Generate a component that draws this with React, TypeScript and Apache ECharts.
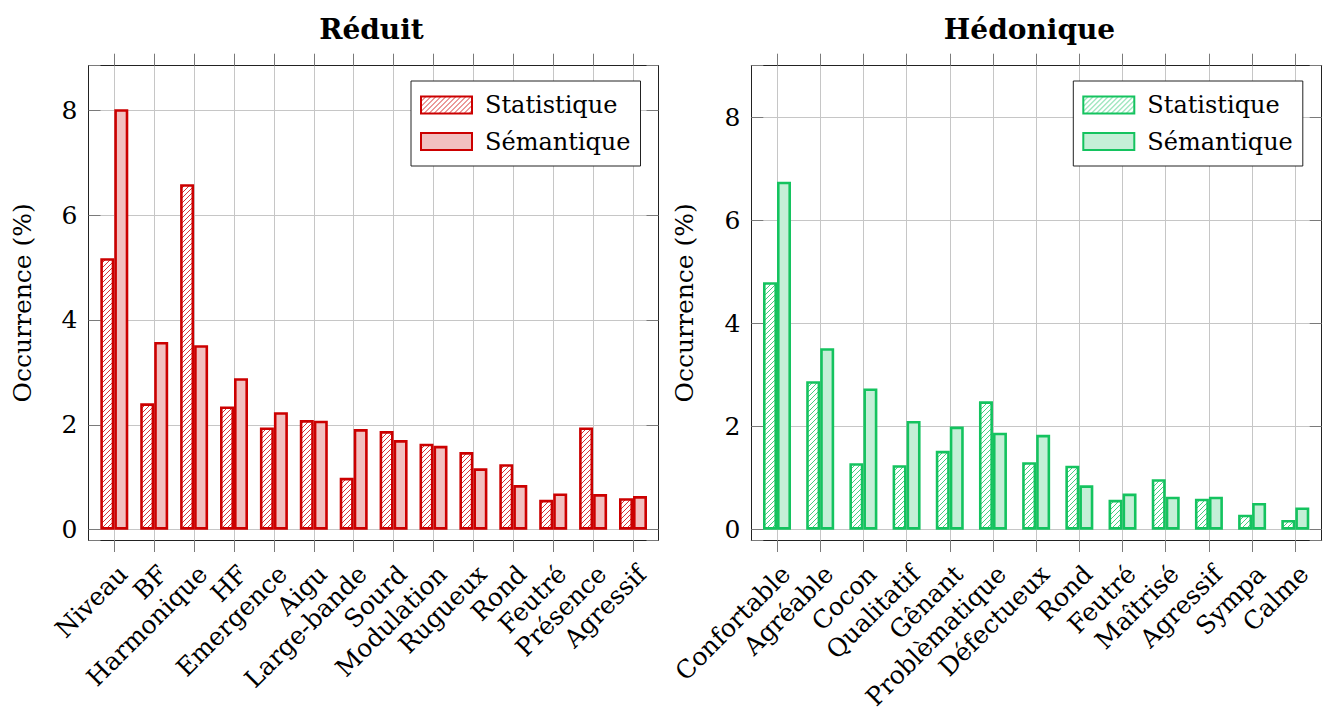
import React, { useEffect, useRef } from 'react';
import * as echarts from 'echarts';

const FONT = 'DejaVu Serif';

const reduitCategories = ['Niveau', 'BF', 'Harmonique', 'HF', 'Emergence', 'Aigu', 'Large-bande', 'Sourd', 'Modulation', 'Rugueux', 'Rond', 'Feutré', 'Présence', 'Agressif'];
const reduitStatistique = [5.18, 2.41, 6.59, 2.35, 1.95, 2.09, 0.99, 1.88, 1.64, 1.48, 1.25, 0.57, 1.95, 0.6];
const reduitSemantique = [8.02, 3.58, 3.52, 2.89, 2.24, 2.08, 1.92, 1.71, 1.6, 1.17, 0.85, 0.69, 0.68, 0.64];

const hedoniqueCategories = ['Confortable', 'Agréable', 'Cocon', 'Qualitatif', 'Gênant', 'Problèmatique', 'Défectueux', 'Rond', 'Feutré', 'Maîtrisé', 'Agressif', 'Sympa', 'Calme'];
const hedoniqueStatistique = [4.8, 2.88, 1.29, 1.25, 1.53, 2.49, 1.31, 1.24, 0.58, 0.98, 0.6, 0.29, 0.19];
const hedoniqueSemantique = [6.75, 3.52, 2.74, 2.11, 2.0, 1.88, 1.84, 0.86, 0.7, 0.64, 0.64, 0.52, 0.43];

const seriesNames = ['Statistique', 'Sémantique'];
const yTickValues = [0, 2, 4, 6, 8];

function makeHatch(color: string) {
  const T = 5;
  const c = document.createElement('canvas');
  c.width = T;
  c.height = T;
  const ctx = c.getContext('2d')!;
  ctx.fillStyle = '#ffffff';
  ctx.fillRect(0, 0, T, T);
  ctx.strokeStyle = color;
  ctx.lineWidth = 0.8;
  ctx.beginPath();
  ctx.moveTo(-1, T + 1);
  ctx.lineTo(T + 1, -1);
  ctx.moveTo(-1, 1);
  ctx.lineTo(1, -1);
  ctx.moveTo(T - 1, T + 1);
  ctx.lineTo(T + 1, T - 1);
  ctx.stroke();
  return c;
}

type PanelProps = {
  left: number;
  width: number;
  title: string;
  titleX: number;
  categories: string[];
  stat: number[];
  sem: number[];
  color: string;
  fill: string;
  frameLeft: number;
  frameRight: number;
  catLeft: number;
  catRight: number;
  yMin: number;
  yMax: number;
  legendLeft: number;
};

const TOP = 65.7;
const BOTTOM = 540;
const FS = 25;

function Panel(p: PanelProps) {
  const ref = useRef<HTMLDivElement>(null);
  useEffect(() => {
    if (!ref.current) return;
    const chart = echarts.init(ref.current, null, { renderer: 'svg' });
    const hatch = makeHatch(p.color);
    const gridLine = { color: '#c6c6c6', width: 1 };
    const tickStyle = { color: '#7a7a7a', width: 1 };
    const frameLine = { show: true, onZero: false, lineStyle: { color: '#222', width: 1 } };
    const yLabelFmt = (v: number) => (yTickValues.some((t) => Math.abs(t - v) < 1e-6) ? String(Math.round(v)) : '');
    const option: any = {
      animation: false,
      textStyle: { fontFamily: FONT },
      title: {
        text: p.title,
        left: p.titleX,
        top: 10,
        textAlign: 'center',
        textStyle: { fontFamily: FONT, fontWeight: 'bold', fontSize: 28, color: '#000' },
      },
      legend: {
        orient: 'vertical',
        left: p.legendLeft,
        top: 81,
        padding: [9, 10, 9.5, 9],
        itemGap: 6.5,
        itemWidth: 51,
        itemHeight: 17,
        icon: 'rect',
        selectedMode: false,
        backgroundColor: '#fff',
        borderColor: '#222',
        borderWidth: 1,
        borderRadius: 0,
        textStyle: { fontFamily: FONT, fontSize: 24, color: '#000', lineHeight: 30, padding: [0, 0, 0, 8] },
        data: seriesNames,
      },
      grid: [
        { left: p.frameLeft, width: p.frameRight - p.frameLeft, top: TOP, height: BOTTOM - TOP, containLabel: false, outerBoundsMode: 'none' },
        { left: p.catLeft, width: p.catRight - p.catLeft, top: TOP, height: BOTTOM - TOP, containLabel: false, outerBoundsMode: 'none' },
      ],
      xAxis: [
        { type: 'value', gridIndex: 0, position: 'bottom', min: 0, max: 1, axisLine: frameLine, axisTick: { show: false }, axisLabel: { show: false }, splitLine: { show: false } },
        { type: 'value', gridIndex: 0, position: 'top', min: 0, max: 1, axisLine: frameLine, axisTick: { show: false }, axisLabel: { show: false }, splitLine: { show: false } },
        {
          type: 'category',
          gridIndex: 1,
          position: 'bottom',
          data: p.categories,
          boundaryGap: false,
          axisLine: { show: false, onZero: false },
          axisTick: { show: true, inside: false, length: 12, lineStyle: tickStyle, interval: 0 },
          splitLine: { show: true, interval: 0, lineStyle: gridLine },
          axisLabel: { interval: 0, rotate: 45, margin: 21, verticalAlign: 'top', fontFamily: FONT, fontSize: FS, color: '#000' },
        },
        {
          type: 'category',
          gridIndex: 1,
          position: 'top',
          data: p.categories,
          boundaryGap: false,
          axisLine: { show: false, onZero: false },
          axisTick: { show: true, inside: false, length: 12, lineStyle: tickStyle, interval: 0 },
          splitLine: { show: false },
          axisLabel: { show: false },
        },
      ],
      yAxis: [
        {
          type: 'value',
          gridIndex: 0,
          position: 'left',
          min: p.yMin,
          max: p.yMax,
          axisLine: frameLine,
          axisTick: { show: true, inside: true, length: 12, lineStyle: tickStyle },
          splitLine: { show: true, lineStyle: gridLine },
          axisLabel: { formatter: yLabelFmt, margin: 11, fontFamily: FONT, fontSize: FS, color: '#000' },
          name: 'Occurrence (%)',
          nameLocation: 'middle',
          nameGap: 54,
          nameTextStyle: { fontFamily: FONT, fontSize: FS, color: '#000' },
        },
        {
          type: 'value',
          gridIndex: 0,
          position: 'right',
          min: p.yMin,
          max: p.yMax,
          axisLine: frameLine,
          axisTick: { show: true, inside: true, length: 12, lineStyle: tickStyle },
          splitLine: { show: false },
          axisLabel: { show: false },
        },
        {
          type: 'value',
          gridIndex: 1,
          min: p.yMin,
          max: p.yMax,
          show: false,
        },
      ],
      series: [
        {
          name: seriesNames[0],
          type: 'bar',
          xAxisIndex: 2,
          yAxisIndex: 2,
          data: p.stat,
          barWidth: 14,
          barGap: '0%',
          clip: false,
          z: 3,
          itemStyle: { color: { image: hatch, repeat: 'repeat' }, borderColor: p.color, borderWidth: 2.6 },
          emphasis: { disabled: true },
        },
        {
          name: seriesNames[1],
          type: 'bar',
          xAxisIndex: 2,
          yAxisIndex: 2,
          data: p.sem,
          barWidth: 14,
          barGap: '0%',
          clip: false,
          z: 3,
          itemStyle: { color: p.fill, borderColor: p.color, borderWidth: 2.6 },
          emphasis: { disabled: true },
        },
      ],
    };
    chart.setOption(option);
    return () => chart.dispose();
  }, []);
  return <div ref={ref} style={{ position: 'absolute', left: p.left, top: 0, width: p.width, height: 711 }} />;
}

export default function App() {
  return (
    <div style={{ position: 'absolute', left: 0, top: 0, width: 1329, height: 711, background: '#fff', overflow: 'hidden' }}>
      <Panel
        left={0}
        width={665}
        title="Réduit"
        titleX={366.5}
        categories={reduitCategories}
        stat={reduitStatistique}
        sem={reduitSemantique}
        color="#cc0000"
        fill="#f2c0c0"
        frameLeft={88.5}
        frameRight={658.5}
        catLeft={114.3}
        catRight={633}
        yMin={-0.197}
        yMax={8.851}
        legendLeft={411}
      />
      <Panel
        left={665}
        width={664}
        title="Hédonique"
        titleX={359.5}
        categories={hedoniqueCategories}
        stat={hedoniqueStatistique}
        sem={hedoniqueSemantique}
        color="#14c35f"
        fill="#c4efd7"
        frameLeft={86.3}
        frameRight={656.7}
        catLeft={112}
        catRight={630.3}
        yMin={-0.2}
        yMax={9.0}
        legendLeft={408.3}
      />
    </div>
  );
}
